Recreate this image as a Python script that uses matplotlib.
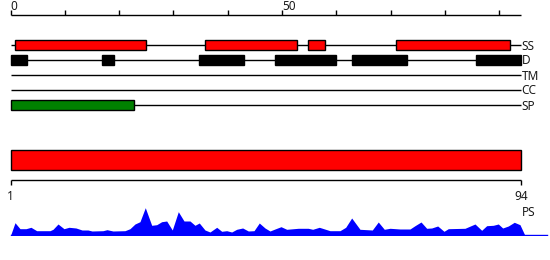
import matplotlib
matplotlib.use("Agg")
import matplotlib.pyplot as plt
from matplotlib.patches import Rectangle

# ---------------- data ----------------
seq_start = 1
seq_len = 94
top_ticks = list(range(0, 91, 10))
top_tick_labels = {0: "0", 50: "50"}

track_names = ["SS", "D", "TM", "CC", "SP"]
ss_bars = [(0.9, 24.9), (35.9, 52.8), (54.8, 57.9), (70.9, 91.9)]
d_bars = [(0.0, 3.0), (16.9, 19.1), (34.7, 43.0), (48.7, 60.0), (62.8, 73.0), (85.7, 94.0)]
tm_bars = []
cc_bars = []
sp_bars = [(0.0, 22.8)]
track_bars = [ss_bars, d_bars, tm_bars, cc_bars, sp_bars]
track_colors = ["#ff0000", "black", "black", "black", "#008000"]

domain_bar = (0.0, 94.0)

profile_pos = [0.0, 0.83, 1.75, 2.85, 3.77, 4.82, 7.27, 7.83, 8.75, 9.85, 10.77, 12.06,
               13.17, 14.27, 15.01, 17.03, 17.77, 18.87, 21.08, 22.0, 22.92, 23.84, 24.82,
               26.0, 26.92, 27.84, 28.76, 29.79, 30.9, 31.95, 33.05, 33.97, 34.76, 35.81,
               36.73, 37.97, 38.89, 39.81, 40.73, 41.65, 42.75, 43.79, 44.84, 45.81, 46.86,
               47.78, 48.7, 49.81, 50.86, 52.99, 54.83, 55.64, 56.86, 58.83, 60.67, 61.72,
               62.82, 64.35, 66.62, 67.72, 68.83, 69.88, 71.72, 73.56, 74.48, 75.59, 76.63,
               77.55, 78.66, 79.82, 80.61, 83.69, 85.53, 86.76, 87.68, 88.9, 89.82, 90.63,
               91.66, 92.76, 93.81, 94.73]
profile_val = [0.0, 12.8, 6.8, 6.8, 8.2, 4.8, 4.8, 6.2, 11.5, 6.8, 8.2, 7.5,
               5.5, 5.5, 4.5, 4.8, 5.8, 4.5, 4.8, 6.8, 11.5, 13.8, 27.8,
               10.2, 10.8, 13.8, 14.5, 5.5, 23.8, 14.5, 14.5, 10.2, 12.5, 5.5,
               3.5, 8.2, 4.2, 4.8, 3.5, 6.2, 7.5, 4.5, 4.8, 12.5, 7.5,
               4.5, 6.5, 8.8, 6.2, 7.2, 7.2, 6.2, 8.2, 4.8, 4.8, 8.2,
               17.5, 6.2, 5.5, 13.5, 6.2, 7.2, 6.5, 6.5, 9.8, 13.5, 7.2,
               7.5, 9.5, 4.2, 6.8, 7.2, 11.5, 5.2, 9.8, 10.2, 11.5, 7.5,
               9.5, 13.2, 10.8, 0.0]
profile_label = "PS"
profile_line_end = 98.8

# ---------------- layout ----------------
W, H = 550, 260
px_per_unit = 510.5 / 94
x_left = -10.5 / px_per_unit
x_right = (W - 10.5) / px_per_unit

plt.rcParams['font.family'] = ['Noto Sans', 'DejaVu Sans']

fig = plt.figure(figsize=(W / 100, H / 100), dpi=100)
ax = fig.add_axes([0, 0, 1, 1])
ax.set_xlim(x_left, x_right)
ax.set_ylim(H, 0)
ax.axis("off")

FS = 8.5
TC = "#1a1a1a"
lw = 1.0
dy = 1.0  # text vertical nudge

# top ruler
ruler_y = 15
ax.plot([0, seq_len], [ruler_y, ruler_y], color="black", lw=lw, solid_capstyle="butt")
for t in top_ticks:
    ax.plot([t, t], [ruler_y, ruler_y - 5], color="black", lw=lw, solid_capstyle="butt")
    if t in top_tick_labels:
        ax.text(t, 5.5 + dy, top_tick_labels[t], ha="left", va="center", fontsize=FS, color=TC)

# tracks
track_y = [45, 60, 75, 90, 105]
bar_h = 10
for name, bars, col, y in zip(track_names, track_bars, track_colors, track_y):
    ax.plot([0, seq_len], [y, y], color="black", lw=lw, zorder=1, solid_capstyle="butt")
    for (s, e) in bars:
        ax.add_patch(Rectangle((s, y - bar_h / 2), e - s, bar_h, facecolor=col,
                               edgecolor="black", lw=lw, zorder=2))
    ax.text(seq_len + 0.1, y + dy, name, ha="left", va="center", fontsize=FS, color=TC)

# domain bar
ax.add_patch(Rectangle((domain_bar[0], 150), domain_bar[1] - domain_bar[0], 20,
                       facecolor="#ff0000", edgecolor="black", lw=lw))

# lower ruler
ly = 180.3
ax.plot([0, seq_len], [ly, ly], color="black", lw=lw, solid_capstyle="butt")
for t in (0, seq_len):
    ax.plot([t, t], [ly, ly + 4.5], color="black", lw=lw, solid_capstyle="butt")
ax.text(0, 195 + dy, str(seq_start), ha="center", va="center", fontsize=FS, color=TC)
ax.text(seq_len, 195 + dy, str(seq_len), ha="center", va="center", fontsize=FS, color=TC)
ax.text(seq_len + 1.4, 211 + dy, profile_label, ha="center", va="center", fontsize=FS, color=TC)

# profile
base_px = 235.5
ax2 = fig.add_axes([0, (H - base_px) / H, 1, 30 / H])
ax2.set_xlim(x_left, x_right)
ax2.set_ylim(0, 30)
ax2.axis("off")
ax2.fill_between(profile_pos, 0, profile_val, color="#0000ff", lw=0)
ax2.plot([0, profile_line_end], [0.3, 0.3], color="#0000ff", lw=1.0)

fig.savefig("out.png", dpi=100)
